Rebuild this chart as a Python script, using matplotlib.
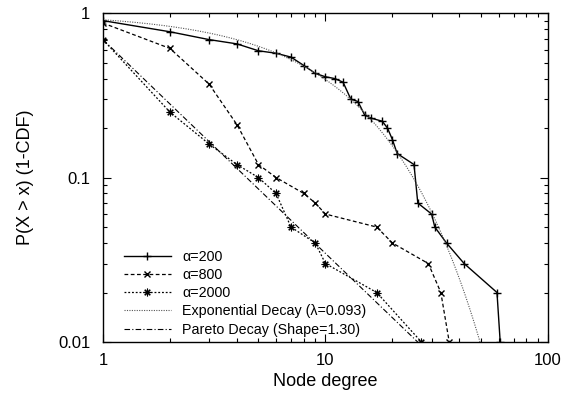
"""Degree distribution (1-CDF) for three alpha settings with fitted decays."""

import numpy as np
import matplotlib

matplotlib.use("Agg")
import matplotlib.pyplot as plt

plt.rcParams["font.family"] = ["Liberation Sans", "DejaVu Sans"]

# complementary CDF of node degree, one series per alpha
deg_a200 = [1, 2, 3, 4, 5, 6, 7, 8, 9, 10, 11, 12, 13, 14, 15, 16, 18, 19, 20,
            21, 25, 26, 30, 31, 35, 42, 59, 61]
ccdf_a200 = [0.90, 0.77, 0.69, 0.65, 0.59, 0.57, 0.54, 0.48, 0.43, 0.41, 0.40,
             0.38, 0.30, 0.29, 0.24, 0.23, 0.22, 0.20, 0.17, 0.14, 0.12, 0.07,
             0.06, 0.05, 0.04, 0.03, 0.02, 0.01]

deg_a800 = [1, 2, 3, 4, 5, 6, 8, 9, 10, 17, 20, 29, 33, 36]
ccdf_a800 = [0.87, 0.61, 0.37, 0.21, 0.12, 0.10, 0.08, 0.07, 0.06, 0.05, 0.04,
             0.03, 0.02, 0.01]

deg_a2000 = [1, 2, 3, 4, 5, 6, 7, 9, 10, 17, 27]
ccdf_a2000 = [0.69, 0.25, 0.16, 0.12, 0.10, 0.08, 0.05, 0.04, 0.03, 0.02, 0.01]

# fitted models
exp_lambda = 0.093
pareto_shape = 1.30
pareto_scale = 0.69

xfit = np.logspace(0, 2, 400)
exp_fit = np.exp(-exp_lambda * xfit)
pareto_fit = pareto_scale * xfit ** (-pareto_shape)

fig = plt.figure(figsize=(5.75, 3.97), dpi=100)
ax = fig.add_axes([0.179, 0.1385, 0.774, 0.8285])

ax.plot(deg_a200, ccdf_a200, color="black", lw=1.0, ls="-",
        marker="+", ms=6, mew=1.0, label="\u03b1=200")
ax.plot(deg_a800, ccdf_a800, color="black", lw=0.9, ls=(0, (3, 2)),
        marker="x", ms=4.5, mew=1.0, label="\u03b1=800")
ax.plot(deg_a2000, ccdf_a2000, color="black", lw=0.9, ls=(0, (1.5, 1.5)),
        marker=(8, 2, 0), ms=5.5, mew=0.8, label="\u03b1=2000")
ax.plot(xfit, exp_fit, color="#555555", lw=0.8, ls=(0, (1, 1.2)),
        label=f"Exponential Decay (\u03bb={exp_lambda:.3f})")
ax.plot(xfit, pareto_fit, color="black", lw=0.8, ls=(0, (5, 2, 1, 2)),
        label=f"Pareto Decay (Shape={pareto_shape:.2f})")

ax.set_xscale("log")
ax.set_yscale("log")
ax.set_xlim(1, 100)
ax.set_ylim(0.01, 1)
ax.set_xticks([1, 10, 100])
ax.set_xticklabels(["1", "10", "100"])
ax.set_yticks([0.01, 0.1, 1])
ax.set_yticklabels(["0.01", "0.1", "1"])

ax.tick_params(which="both", direction="in", top=True, right=True,
               labelsize=12, width=0.8)
ax.tick_params(axis="x", which="both", pad=8)
ax.tick_params(axis="y", which="both", pad=9)
ax.tick_params(which="major", length=6)
ax.tick_params(which="minor", length=3)
for s in ax.spines.values():
    s.set_linewidth(1.0)

ax.set_xlabel("Node degree", fontsize=13)
ax.set_ylabel("P(X > x) (1-CDF)", fontsize=13)
ax.xaxis.set_label_coords(0.5, -0.095)
ax.yaxis.set_label_coords(-0.155, 0.5)

leg = ax.legend(loc="lower left", bbox_to_anchor=(0.027, -0.01), frameon=False,
                fontsize=10.3, handlelength=3.3, handletextpad=0.8,
                labelspacing=0.3, borderaxespad=0.2)

fig.savefig("out.png", dpi=100)
